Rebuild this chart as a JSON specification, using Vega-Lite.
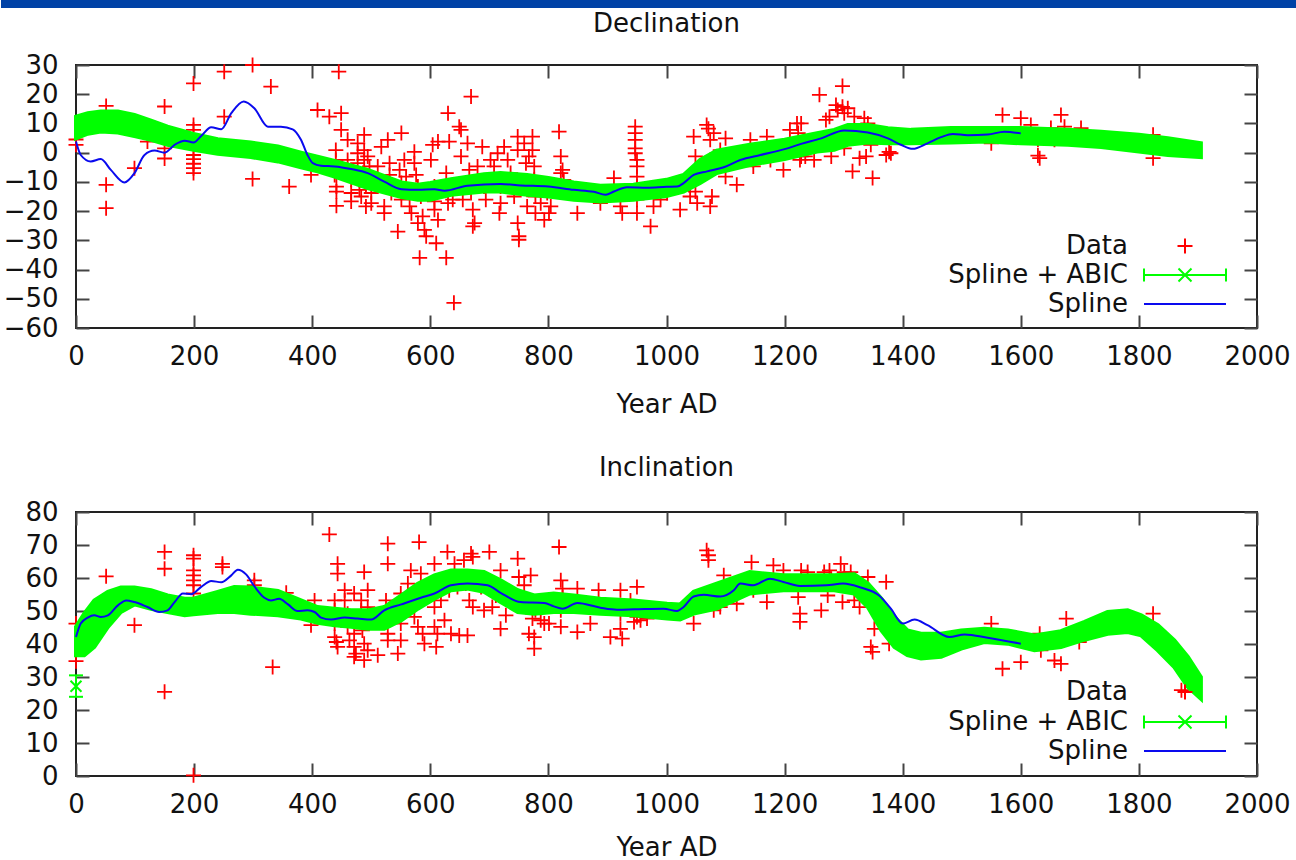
{
  "$schema": "https://vega.github.io/schema/vega-lite/v6.json",
  "padding": 0,
  "background": "white",
  "config": {
    "font": "DejaVu Sans",
    "view": {"stroke": "#222222", "strokeWidth": 2},
    "axis": {"domain": false, "grid": false, "ticks": true, "tickSize": -13, "tickWidth": 2, "tickColor": "#444444", "labelFont": "DejaVu Sans", "labelFontSize": 26, "labelColor": "#111111", "titleFont": "DejaVu Sans", "titleFontSize": 26, "titleFontWeight": "normal", "titleColor": "#111111", "labelFlush": false, "labelOverlap": false},
    "title": {"font": "DejaVu Sans", "fontSize": 26, "fontWeight": "normal", "color": "#111111"},
    "legend": {
      "title": null, "orient": "none", "padding": 0,
      "labelFont": "DejaVu Sans", "labelFontSize": 26, "labelColor": "#111111", "labelAlign": "right", "labelOffset": -70, "labelLimit": 400,
      "symbolSize": 400, "symbolStrokeWidth": 2, "symbolOpacity": 1, "rowPadding": 0
    }
  },
  "datasets": {
    "decData": [
      {"year":0,"v":2.7},{"year":0,"v":4.5},{"year":51,"v":16},{"year":51,"v":-11},{"year":51,"v":-19},{"year":99,"v":-5.3},{"year":121,"v":3.8},{"year":150,"v":15.8},{"year":150,"v":1.5},{"year":150,"v":-2},
      {"year":199,"v":23.7},{"year":199,"v":9.5},{"year":199,"v":7.8},{"year":199,"v":-0.8},{"year":199,"v":-2.2},{"year":199,"v":-3.8},{"year":199,"v":-5.3},{"year":199,"v":-7},{"year":251,"v":27.7},{"year":251,"v":12.3},
      {"year":299,"v":30},{"year":299,"v":-9},{"year":330,"v":22.6},{"year":361,"v":-11.6},{"year":398,"v":-7.6},{"year":409,"v":14.6},{"year":429,"v":12.3},{"year":445,"v":27.7},{"year":449,"v":13.5},{"year":449,"v":7.8},
      {"year":440,"v":0.9},{"year":440,"v":-2.5},{"year":443,"v":-5.3},{"year":438,"v":-7.6},{"year":441,"v":-11.6},{"year":441,"v":-13.3},{"year":441,"v":-18.2},
      {"year":460,"v":4.4},{"year":460,"v":-2.5},{"year":460,"v":-5.9},{"year":466,"v":-9.3},{"year":466,"v":-13.8},{"year":466,"v":-16.7},
      {"year":477,"v":3.2},{"year":477,"v":-0.2},{"year":477,"v":-3.6},{"year":480,"v":-12.7},{"year":483,"v":-15},
      {"year":488,"v":6.1},{"year":488,"v":0.9},{"year":488,"v":-2.5},{"year":488,"v":-7.6},{"year":491,"v":-11.6},{"year":491,"v":-18.4},
      {"year":494,"v":-1.3},{"year":497,"v":-4.7},{"year":500,"v":-13.8},{"year":500,"v":-17.3},
      {"year":511,"v":-4.7},{"year":517,"v":2},{"year":522,"v":-18.4},{"year":522,"v":-20.7},
      {"year":528,"v":4.4},{"year":531,"v":-3.6},{"year":531,"v":-7.6},{"year":534,"v":-13.8},
      {"year":545,"v":-27},{"year":551,"v":6.7},{"year":548,"v":-5.9},{"year":551,"v":-10.4},{"year":551,"v":-16.1},
      {"year":556,"v":-2.5},{"year":559,"v":-8.2},{"year":565,"v":-18.4},{"year":568,"v":-20.7},
      {"year":573,"v":0.3},{"year":573,"v":-3.6},{"year":576,"v":-7.6},{"year":579,"v":-11.6},{"year":579,"v":-24.1},
      {"year":582,"v":-36},{"year":584,"v":-15},{"year":587,"v":-21.8},{"year":590,"v":-26.4},{"year":593,"v":-28.6},
      {"year":601,"v":-2.5},{"year":604,"v":2.7},{"year":607,"v":-11.6},{"year":607,"v":-16.7},{"year":607,"v":-19.5},
      {"year":610,"v":-31},{"year":613,"v":-23},{"year":613,"v":3.8},{"year":627,"v":-36},{"year":630,"v":13.5},{"year":632,"v":3.8},{"year":627,"v":-7},{"year":630,"v":-17.3},{"year":624,"v":-11.6},{"year":640,"v":-51.4},
      {"year":638,"v":-16.1},{"year":649,"v":8.9},{"year":652,"v":7.8},{"year":652,"v":-1.3},{"year":655,"v":-11.6},{"year":655,"v":-16.1},
      {"year":663,"v":3.2},{"year":666,"v":-5.9},{"year":669,"v":19.2},{"year":669,"v":-13.8},{"year":672,"v":-19.5},{"year":672,"v":-25.2},{"year":675,"v":-24.1},
      {"year":680,"v":-4.7},{"year":688,"v":2},{"year":691,"v":-11.6},{"year":694,"v":-16.1},
      {"year":702,"v":-2.5},{"year":708,"v":-4.7},{"year":714,"v":-0.2},{"year":717,"v":-20.7},{"year":719,"v":-11.6},{"year":719,"v":-17.3},
      {"year":725,"v":2},{"year":731,"v":-2.5},{"year":736,"v":-7},{"year":742,"v":-15},
      {"year":748,"v":5.5},{"year":748,"v":0.9},{"year":748,"v":-11.6},{"year":748,"v":-24.1},{"year":750,"v":-28.6},{"year":750,"v":-29.8},
      {"year":759,"v":3.2},{"year":762,"v":-3.6},{"year":764,"v":-12.7},{"year":764,"v":-18.4},{"year":767,"v":-1.3},
      {"year":773,"v":5.5},{"year":773,"v":0.9},{"year":776,"v":-4.7},{"year":776,"v":-9.3},{"year":778,"v":-15},{"year":778,"v":-20.7},
      {"year":787,"v":-17.3},{"year":793,"v":-23},{"year":798,"v":-13.8},{"year":801,"v":-20.7},{"year":804,"v":-18.4},
      {"year":818,"v":7.2},{"year":821,"v":-1.3},{"year":824,"v":-5.9},{"year":821,"v":-7},{"year":826,"v":-9.3},{"year":849,"v":-20.7},{"year":888,"v":-17.3},
      {"year":911,"v":-8.7},{"year":916,"v":-13.8},{"year":922,"v":-18.4},{"year":925,"v":-20.7},
      {"year":947,"v":8.9},{"year":947,"v":6.7},{"year":947,"v":4.4},{"year":947,"v":1.5},{"year":947,"v":-0.2},{"year":950,"v":-2.5},{"year":950,"v":-4.7},{"year":950,"v":-8.2},{"year":950,"v":-11.6},{"year":950,"v":-16.1},{"year":950,"v":-20.7},
      {"year":973,"v":-25.2},{"year":978,"v":-18.4},{"year":990,"v":-16.1},{"year":1001,"v":-13.8},
      {"year":1023,"v":-19.5},{"year":1040,"v":-15},{"year":1046,"v":5.5},{"year":1049,"v":-1.3},{"year":1046,"v":-8.2},{"year":1049,"v":-13.3},{"year":1052,"v":-17.3},
      {"year":1068,"v":9.5},{"year":1071,"v":8.2},{"year":1074,"v":4.4},{"year":1074,"v":-2.5},{"year":1077,"v":-15},{"year":1074,"v":-18.4},
      {"year":1080,"v":6.7},{"year":1091,"v":0.9},{"year":1100,"v":4.9},{"year":1100,"v":-8.2},{"year":1119,"v":-11},
      {"year":1142,"v":4.4},{"year":1147,"v":-2.5},{"year":1147,"v":-4.7},{"year":1170,"v":5.5},{"year":1176,"v":-2.5},{"year":1198,"v":-5.9},
      {"year":1209,"v":7.8},{"year":1221,"v":10},{"year":1223,"v":6.7},{"year":1226,"v":-2.5},{"year":1235,"v":-1.3},
      {"year":1228,"v":10},{"year":1228,"v":-1.3},{"year":1250,"v":-2.5},{"year":1259,"v":19.8},
      {"year":1270,"v":11.2},{"year":1276,"v":12.3},{"year":1279,"v":-1.3},{"year":1287,"v":16.3},{"year":1290,"v":14.6},
      {"year":1298,"v":15.7},{"year":1298,"v":22.8},{"year":1301,"v":13.5},{"year":1301,"v":1.5},{"year":1307,"v":15.2},
      {"year":1315,"v":-6.4},{"year":1318,"v":12.3},{"year":1327,"v":-1.9},{"year":1335,"v":11.8},{"year":1338,"v":-1.3},
      {"year":1341,"v":10},{"year":1346,"v":2.7},{"year":1349,"v":-8.7},{"year":1372,"v":-0.8},{"year":1377,"v":0.3},{"year":1380,"v":-0.2},
      {"year":1550,"v":3.2},{"year":1569,"v":12.9},{"year":1600,"v":11.8},{"year":1617,"v":9.5},{"year":1629,"v":4.4},{"year":1629,"v":-1},{"year":1632,"v":-1.9},
      {"year":1651,"v":8.4},{"year":1657,"v":4.4},{"year":1668,"v":12.9},{"year":1674,"v":8.9},{"year":1702,"v":8.4},
      {"year":1824,"v":6.1},{"year":1824,"v":-1.9}
    ],
    "decBand": [
      {"year":0,"lo":4.9,"hi":12.3},{"year":20,"lo":6.5,"hi":13.5},{"year":42,"lo":7.2,"hi":14.1},{"year":71,"lo":6.9,"hi":14.1},{"year":99,"lo":5.7,"hi":12.9},{"year":127,"lo":4.4,"hi":11},{"year":155,"lo":2.7,"hi":8.9},{"year":199,"lo":1,"hi":6.4},{"year":240,"lo":-0.4,"hi":4.6},{"year":296,"lo":-1.5,"hi":3.5},
      {"year":342,"lo":-3,"hi":2.1},{"year":381,"lo":-5,"hi":0},{"year":409,"lo":-6.4,"hi":-1.4},{"year":438,"lo":-8.2,"hi":-2.8},{"year":494,"lo":-12.1,"hi":-5.9},{"year":551,"lo":-15.2,"hi":-10.2},{"year":579,"lo":-16.1,"hi":-11},{"year":600,"lo":-16.1,"hi":-10.4},{"year":635,"lo":-14.4,"hi":-9.1},{"year":691,"lo":-13.3,"hi":-7.4},
      {"year":719,"lo":-13.3,"hi":-7},{"year":764,"lo":-14.4,"hi":-7.6},{"year":800,"lo":-15,"hi":-8.7},{"year":843,"lo":-16.1,"hi":-10.2},{"year":888,"lo":-16.7,"hi":-11.3},{"year":944,"lo":-16.1,"hi":-11},{"year":1000,"lo":-14.8,"hi":-9.3},{"year":1029,"lo":-13.3,"hi":-7.6},{"year":1057,"lo":-10.4,"hi":-2.5},{"year":1085,"lo":-7,"hi":0.7},
      {"year":1141,"lo":-4.2,"hi":2.7},{"year":1200,"lo":-2.2,"hi":4.4},{"year":1255,"lo":0.4,"hi":6.7},{"year":1284,"lo":1,"hi":7.8},{"year":1307,"lo":2.7,"hi":9.5},{"year":1341,"lo":3.5,"hi":9.5},{"year":1375,"lo":3.2,"hi":8.4},{"year":1414,"lo":3.2,"hi":7.8},{"year":1482,"lo":3.5,"hi":8.4},{"year":1544,"lo":3.8,"hi":8.4},
      {"year":1600,"lo":3.2,"hi":8.4},{"year":1680,"lo":2.7,"hi":7.8},{"year":1736,"lo":1.9,"hi":7.2},{"year":1800,"lo":0.4,"hi":6.1},{"year":1849,"lo":-0.8,"hi":4.9},{"year":1905,"lo":-1.5,"hi":3.2}
    ],
    "decSpline": [
      {"year":0,"v":3.8},{"year":8,"v":-0.8},{"year":25,"v":-3},{"year":42,"v":-2.2},{"year":59,"v":-5.9},{"year":82,"v":-10.2},{"year":99,"v":-7},{"year":116,"v":-0.8},{"year":133,"v":0.7},{"year":150,"v":0},
      {"year":167,"v":2.7},{"year":184,"v":4.1},{"year":199,"v":3.5},{"year":212,"v":5.7},{"year":229,"v":8.7},{"year":246,"v":8},{"year":263,"v":13.5},{"year":284,"v":17.5},{"year":302,"v":15.2},{"year":325,"v":8.9},
      {"year":347,"v":8.9},{"year":367,"v":8},{"year":381,"v":4.4},{"year":392,"v":-0.8},{"year":401,"v":-3.6},{"year":415,"v":-4.5},{"year":438,"v":-4.7},{"year":466,"v":-5.6},{"year":494,"v":-7},{"year":522,"v":-9.9},
      {"year":551,"v":-12.5},{"year":579,"v":-12.7},{"year":607,"v":-12.5},{"year":624,"v":-13},{"year":663,"v":-11.3},{"year":719,"v":-10.7},{"year":753,"v":-11.2},{"year":800,"v":-11.6},{"year":843,"v":-12.7},{"year":877,"v":-13.4},
      {"year":897,"v":-14.4},{"year":911,"v":-13.3},{"year":933,"v":-11.8},{"year":967,"v":-12},{"year":1000,"v":-11.7},{"year":1018,"v":-11.6},{"year":1029,"v":-10.4},{"year":1046,"v":-7.6},{"year":1069,"v":-6.4},{"year":1097,"v":-5},
      {"year":1125,"v":-2.5},{"year":1159,"v":-0.8},{"year":1200,"v":1.2},{"year":1228,"v":3},{"year":1262,"v":4.9},{"year":1301,"v":7.6},{"year":1341,"v":6.9},{"year":1375,"v":4.9},{"year":1397,"v":2.7},{"year":1417,"v":1.3},
      {"year":1442,"v":3.2},{"year":1465,"v":5.3},{"year":1485,"v":6.4},{"year":1510,"v":6},{"year":1544,"v":6.2},{"year":1572,"v":7.2},{"year":1600,"v":6.6}
    ],
    "incData": [
      {"year":0,"v":46.2},{"year":0,"v":34.8},{"year":51,"v":60.5},{"year":99,"v":45.7},{"year":150,"v":67.9},{"year":150,"v":62.8},{"year":150,"v":25.5},
      {"year":199,"v":66.9},{"year":199,"v":65.9},{"year":199,"v":62.3},{"year":199,"v":60.8},{"year":199,"v":59.3},{"year":199,"v":57.8},{"year":199,"v":55.3},{"year":199,"v":0.2},
      {"year":248,"v":64.3},{"year":248,"v":63.3},{"year":302,"v":59.3},{"year":302,"v":57.8},{"year":333,"v":33},{"year":356,"v":55.5},{"year":398,"v":45.7},{"year":404,"v":53.2},{"year":429,"v":73.2},
      {"year":443,"v":64.3},{"year":443,"v":61.3},{"year":438,"v":53.2},{"year":438,"v":50.2},{"year":438,"v":46.2},{"year":438,"v":42.1},{"year":441,"v":40.6},{"year":443,"v":39.1},
      {"year":455,"v":56.3},{"year":455,"v":53.2},{"year":460,"v":49.2},{"year":460,"v":45.2},{"year":463,"v":41.1},
      {"year":471,"v":55.3},{"year":471,"v":47.2},{"year":471,"v":43.1},{"year":471,"v":39.1},{"year":471,"v":36.1},{"year":474,"v":37.1},
      {"year":483,"v":53.2},{"year":483,"v":50.2},{"year":485,"v":44.1},{"year":488,"v":61.8},{"year":488,"v":40.1},{"year":488,"v":35.1},
      {"year":494,"v":56.3},{"year":494,"v":51.2},{"year":497,"v":46.7},{"year":494,"v":38.1},
      {"year":511,"v":36.6},{"year":525,"v":53.2},{"year":528,"v":70.4},{"year":528,"v":64.3},{"year":528,"v":43.1},{"year":528,"v":41.1},
      {"year":545,"v":37.1},{"year":550,"v":55.3},{"year":550,"v":51.2},{"year":550,"v":46.2},{"year":550,"v":41.1},{"year":562,"v":58.3},{"year":567,"v":62.3},{"year":570,"v":53.2},{"year":573,"v":48.2},{"year":579,"v":45.2},
      {"year":581,"v":70.9},{"year":584,"v":61.3},{"year":587,"v":43.1},{"year":590,"v":40.1},{"year":593,"v":56.3},
      {"year":607,"v":64.3},{"year":607,"v":58.3},{"year":607,"v":51.2},{"year":607,"v":45.2},{"year":610,"v":39.1},{"year":612,"v":43.1},
      {"year":618,"v":53.2},{"year":624,"v":47.2},{"year":629,"v":67.9},{"year":632,"v":56.3},{"year":635,"v":43.1},
      {"year":641,"v":64.3},{"year":646,"v":57.3},{"year":649,"v":42.6},{"year":657,"v":65.4},{"year":660,"v":58.3},{"year":663,"v":42.6},
      {"year":666,"v":53.2},{"year":669,"v":67.4},{"year":672,"v":66.4},{"year":672,"v":58.3},{"year":672,"v":51.2},
      {"year":686,"v":57.3},{"year":691,"v":50.2},{"year":700,"v":67.9},{"year":705,"v":51.2},{"year":711,"v":54.7},
      {"year":719,"v":62.3},{"year":719,"v":44.6},{"year":722,"v":56.3},{"year":728,"v":48.7},
      {"year":748,"v":65.9},{"year":750,"v":60.3},{"year":756,"v":53.2},{"year":759,"v":57.8},{"year":762,"v":51.2},
      {"year":767,"v":43.1},{"year":770,"v":60.8},{"year":773,"v":47.7},{"year":776,"v":42.1},{"year":776,"v":38.6},{"year":778,"v":50.2},
      {"year":787,"v":47.2},{"year":793,"v":46.2},{"year":801,"v":46.2},
      {"year":818,"v":69.4},{"year":821,"v":59.3},{"year":824,"v":56.8},{"year":824,"v":54.2},{"year":821,"v":50.2},{"year":821,"v":45.2},
      {"year":849,"v":56.8},{"year":849,"v":43.6},{"year":871,"v":46.2},{"year":885,"v":56.3},
      {"year":905,"v":42.1},{"year":922,"v":56.3},{"year":922,"v":49.2},{"year":922,"v":44.6},{"year":925,"v":41.6},
      {"year":939,"v":53.2},{"year":945,"v":46.7},{"year":950,"v":57.3},{"year":950,"v":48.2},{"year":956,"v":47.2},{"year":967,"v":47.7},
      {"year":1023,"v":50.2},{"year":1046,"v":46.2},
      {"year":1068,"v":68.4},{"year":1071,"v":66.9},{"year":1071,"v":65.4},{"year":1080,"v":50.2},{"year":1091,"v":51.2},
      {"year":1097,"v":60.8},{"year":1119,"v":52.2},{"year":1144,"v":64.8},{"year":1147,"v":56.3},{"year":1153,"v":59.3},
      {"year":1170,"v":52.7},{"year":1181,"v":63.8},{"year":1198,"v":62.3},{"year":1223,"v":54.2},{"year":1226,"v":49.2},{"year":1226,"v":46.7},
      {"year":1228,"v":62.3},{"year":1239,"v":61.8},
      {"year":1262,"v":50.2},{"year":1267,"v":61.8},{"year":1273,"v":54.7},{"year":1276,"v":62.3},{"year":1279,"v":59.8},
      {"year":1295,"v":64.3},{"year":1298,"v":52.7},{"year":1301,"v":61.8},{"year":1312,"v":61.8},{"year":1318,"v":53.2},
      {"year":1327,"v":51.2},{"year":1341,"v":60.3},{"year":1346,"v":39.1},{"year":1349,"v":37.6},{"year":1352,"v":44.6},
      {"year":1372,"v":58.8},{"year":1377,"v":40.1},
      {"year":1550,"v":46.2},{"year":1569,"v":32.5},{"year":1600,"v":34.5},{"year":1632,"v":43.1},{"year":1634,"v":38.1},
      {"year":1657,"v":35},{"year":1668,"v":34},{"year":1677,"v":47.7},{"year":1699,"v":40.6},
      {"year":1824,"v":49.2},{"year":1872,"v":26}
    ],
    "incBand": [
      {"year":0,"lo":36.6,"hi":45.2},{"year":14,"lo":36.6,"hi":49.2},{"year":31,"lo":39.1,"hi":53.2},{"year":54,"lo":45.2,"hi":55.8},{"year":76,"lo":49.7,"hi":57.1},{"year":99,"lo":52,"hi":57.1},{"year":127,"lo":50.7,"hi":56.3},{"year":155,"lo":49.7,"hi":54.7},{"year":184,"lo":48.7,"hi":53.7},{"year":199,"lo":49,"hi":53.7},
      {"year":240,"lo":49.7,"hi":55.8},{"year":268,"lo":49.7,"hi":57.3},{"year":296,"lo":49.2,"hi":57.1},{"year":342,"lo":48.7,"hi":56.1},{"year":381,"lo":47.7,"hi":53.2},{"year":409,"lo":46.4,"hi":51.2},{"year":438,"lo":45.7,"hi":50.7},{"year":466,"lo":45.2,"hi":50.2},{"year":494,"lo":44.6,"hi":50.2},{"year":522,"lo":44.6,"hi":51.2},
      {"year":551,"lo":47.2,"hi":54.7},{"year":579,"lo":50.7,"hi":58.3},{"year":607,"lo":53.7,"hi":60.8},{"year":635,"lo":56.3,"hi":62.3},{"year":663,"lo":56.8,"hi":62.3},{"year":691,"lo":55.8,"hi":61.8},{"year":719,"lo":52.7,"hi":59.3},{"year":748,"lo":49.7,"hi":56.3},{"year":776,"lo":49.2,"hi":54.7},{"year":809,"lo":49.7,"hi":55.3},
      {"year":843,"lo":49.7,"hi":54.7},{"year":888,"lo":49.2,"hi":53.7},{"year":944,"lo":48.7,"hi":53.2},{"year":1001,"lo":47.7,"hi":52.2},{"year":1023,"lo":47.4,"hi":52},{"year":1046,"lo":49.2,"hi":55.8},{"year":1085,"lo":50.7,"hi":58.3},{"year":1141,"lo":55.3,"hi":61.8},{"year":1198,"lo":56.3,"hi":60.8},{"year":1254,"lo":56.3,"hi":60.8},
      {"year":1284,"lo":56.3,"hi":60.8},{"year":1318,"lo":55.3,"hi":61.1},{"year":1341,"lo":51.2,"hi":58.3},{"year":1364,"lo":44.1,"hi":53.7},{"year":1386,"lo":39.1,"hi":48.2},{"year":1408,"lo":36.6,"hi":44.1},{"year":1431,"lo":35.6,"hi":43.1},{"year":1465,"lo":36.1,"hi":43.1},{"year":1499,"lo":38.6,"hi":44.1},{"year":1538,"lo":40.6,"hi":44.6},
      {"year":1578,"lo":40.1,"hi":44.1},{"year":1623,"lo":38.1,"hi":42.6},{"year":1668,"lo":39.1,"hi":43.9},{"year":1708,"lo":41.3,"hi":46.7},{"year":1747,"lo":43.1,"hi":49.7},{"year":1781,"lo":43.6,"hi":50.2},{"year":1804,"lo":42.6,"hi":48.7},{"year":1832,"lo":38.1,"hi":45.7},{"year":1860,"lo":33,"hi":41.1},{"year":1883,"lo":27,"hi":36.1},
      {"year":1905,"lo":23.4,"hi":30}
    ],
    "incSpline": [
      {"year":0,"v":42.1},{"year":8,"v":46.2},{"year":20,"v":48},{"year":31,"v":48.7},{"year":42,"v":48.2},{"year":54,"v":48.7},{"year":71,"v":51.7},{"year":85,"v":53.2},{"year":99,"v":52.7},{"year":121,"v":51.2},
      {"year":141,"v":49.7},{"year":155,"v":50.2},{"year":167,"v":52.7},{"year":181,"v":55.3},{"year":195,"v":55.1},{"year":212,"v":57.3},{"year":229,"v":59.1},{"year":246,"v":58.7},{"year":263,"v":60.8},{"year":274,"v":62.5},
      {"year":288,"v":61.1},{"year":302,"v":57.5},{"year":319,"v":54},{"year":330,"v":53.2},{"year":344,"v":53.7},{"year":359,"v":52},{"year":375,"v":50},{"year":392,"v":50.2},{"year":404,"v":49.7},{"year":415,"v":48},
      {"year":432,"v":47.4},{"year":455,"v":48},{"year":477,"v":47.7},{"year":500,"v":47.4},{"year":522,"v":50.2},{"year":551,"v":52},{"year":584,"v":54},{"year":607,"v":55.3},{"year":635,"v":57.8},{"year":663,"v":58.3},
      {"year":697,"v":57.8},{"year":719,"v":55.5},{"year":753,"v":52.7},{"year":793,"v":52.4},{"year":809,"v":51.4},{"year":824,"v":50.7},{"year":849,"v":52.4},{"year":888,"v":51},{"year":916,"v":50.4},{"year":945,"v":50.5},
      {"year":995,"v":50.7},{"year":1018,"v":50},{"year":1029,"v":51.2},{"year":1046,"v":54.4},{"year":1063,"v":54.9},{"year":1091,"v":54.4},{"year":1114,"v":56.3},{"year":1125,"v":58.3},{"year":1147,"v":57.8},{"year":1175,"v":59.8},
      {"year":1198,"v":58.8},{"year":1226,"v":57.6},{"year":1271,"v":57.8},{"year":1299,"v":58.3},{"year":1329,"v":57.1},{"year":1360,"v":54.7},{"year":1380,"v":50.7},{"year":1400,"v":46.2},{"year":1420,"v":47.4},{"year":1442,"v":45.7},
      {"year":1479,"v":42.1},{"year":1505,"v":42.9},{"year":1544,"v":41.9},{"year":1600,"v":40.1}
    ],
    "incAbic0": [{"year":0,"lo":24,"hi":30.5,"mid":27.2}]
  },
  "concat": [
    {
      "width": 1221, "height": 8,
      "view": {"fill": "#0042a6", "stroke": null},
      "data": {"values": [{}]},
      "mark": {"type": "rect", "color": "#0042a6"},
      "encoding": {
        "y": {"datum": 0, "type": "quantitative", "scale": {"domain": [0, 1]},
              "axis": {"domain": true, "domainColor": "#0042a6", "domainWidth": 150, "domainCap": "butt", "translate": 0, "ticks": false, "labels": false, "grid": false, "title": null, "minExtent": 75, "maxExtent": 75}},
        "y2": {"datum": 1}
      }
    },
    {
      "spacing": 36,
      "resolve": {"scale": {"color": "independent", "fill": "independent", "stroke": "independent"}, "legend": {"color": "independent", "fill": "independent", "stroke": "independent"}},
      "vconcat": [
        {
          "width": 1181, "height": 263,
          "title": {"text": "Declination", "offset": 15},
          "resolve": {"axis": {"x": "independent", "y": "independent"}},
          "layer": [
            {
              "data": {"name": "decData"},
              "mark": {"type": "point", "shape": "M-1,0H1M0,-1V1", "size": 225, "strokeWidth": 1.8, "filled": false, "opacity": 1},
              "encoding": {
                "x": {"field": "year", "type": "quantitative", "scale": {"domain": [0, 2000], "nice": false, "zero": false},
                      "axis": {"orient": "bottom", "format": "d", "values": [0,200,400,600,800,1000,1200,1400,1600,1800,2000], "title": "Year AD", "labelPadding": 28, "titlePadding": 22}},
                "y": {"field": "v", "type": "quantitative", "scale": {"domain": [-60, 30], "nice": false, "zero": false},
                      "axis": {"orient": "left", "values": [-60,-50,-40,-30,-20,-10,0,10,20,30], "title": null, "labelPadding": 31, "minExtent": 75, "maxExtent": 75}},
                "color": {"datum": "Data", "type": "nominal",
                          "scale": {"domain": ["Data"], "range": ["#ff0000"]},
                          "legend": {"legendX": 1096, "legendY": 168, "symbolType": "M-0.75,0H0.75M0,-0.75V0.75", "symbolStrokeColor": "#ff0000"}}
              }
            },
            {
              "data": {"name": "decBand"},
              "mark": {"type": "area", "stroke": "#00ff00", "strokeWidth": 4, "opacity": 1},
              "encoding": {
                "x": {"field": "year", "type": "quantitative", "scale": {"domain": [0, 2000], "nice": false, "zero": false},
                      "axis": {"orient": "top", "values": [0,200,400,600,800,1000,1200,1400,1600,1800,2000], "labels": false, "title": null, "minExtent": 0, "maxExtent": 0}},
                "y": {"field": "hi", "type": "quantitative", "scale": {"domain": [-60, 30], "nice": false, "zero": false},
                      "axis": {"orient": "right", "values": [-60,-50,-40,-30,-20,-10,0,10,20,30], "labels": false, "title": null, "minExtent": 0, "maxExtent": 0}},
                "y2": {"field": "lo"},
                "fill": {"datum": "Spline + ABIC", "type": "nominal",
                         "scale": {"domain": ["Spline + ABIC"], "range": ["#00ff00"]},
                         "legend": {"legendX": 1096, "legendY": 197, "symbolType": "M-4.1,0H4.1M-4.1,-0.65V0.65M4.1,-0.65V0.65M-0.65,-0.65L0.65,0.65M-0.65,0.65L0.65,-0.65", "symbolStrokeColor": "#00ff00", "symbolFillColor": "transparent", "symbolStrokeWidth": 2}}
              }
            },
            {
              "data": {"name": "decSpline"},
              "mark": {"type": "line", "strokeWidth": 2, "interpolate": "monotone"},
              "encoding": {
                "x": {"field": "year", "type": "quantitative", "axis": null},
                "y": {"field": "v", "type": "quantitative", "axis": null},
                "stroke": {"datum": "Spline", "type": "nominal",
                           "scale": {"domain": ["Spline"], "range": ["#0a0aee"]},
                           "legend": {"legendX": 1096, "legendY": 226, "symbolType": "M-4.1,0H4.1", "symbolStrokeColor": "#0a0aee", "symbolStrokeWidth": 2}}
              }
            }
          ]
        },
        {
          "width": 1181, "height": 264,
          "title": {"text": "Inclination", "offset": 18},
          "resolve": {"axis": {"x": "independent", "y": "independent"}},
          "layer": [
            {
              "data": {"name": "incData"},
              "mark": {"type": "point", "shape": "M-1,0H1M0,-1V1", "size": 225, "strokeWidth": 1.8, "filled": false, "opacity": 1},
              "encoding": {
                "x": {"field": "year", "type": "quantitative", "scale": {"domain": [0, 2000], "nice": false, "zero": false},
                      "axis": {"orient": "bottom", "format": "d", "values": [0,200,400,600,800,1000,1200,1400,1600,1800,2000], "title": "Year AD", "labelPadding": 28, "titlePadding": 17}},
                "y": {"field": "v", "type": "quantitative", "scale": {"domain": [0, 80], "nice": false, "zero": false},
                      "axis": {"orient": "left", "values": [0,10,20,30,40,50,60,70,80], "title": null, "labelPadding": 31, "minExtent": 75, "maxExtent": 75}},
                "color": {"datum": "Data", "type": "nominal",
                          "scale": {"domain": ["Data"], "range": ["#ff0000"]},
                          "legend": {"legendX": 1096, "legendY": 167, "symbolType": "M-0.75,0H0.75M0,-0.75V0.75", "symbolStrokeColor": "#ff0000"}}
              }
            },
            {
              "data": {"name": "incBand"},
              "mark": {"type": "area", "stroke": "#00ff00", "strokeWidth": 4, "opacity": 1},
              "encoding": {
                "x": {"field": "year", "type": "quantitative", "scale": {"domain": [0, 2000], "nice": false, "zero": false},
                      "axis": {"orient": "top", "values": [0,200,400,600,800,1000,1200,1400,1600,1800,2000], "labels": false, "title": null, "minExtent": 0, "maxExtent": 0}},
                "y": {"field": "hi", "type": "quantitative", "scale": {"domain": [0, 80], "nice": false, "zero": false},
                      "axis": {"orient": "right", "values": [0,10,20,30,40,50,60,70,80], "labels": false, "title": null, "minExtent": 0, "maxExtent": 0}},
                "y2": {"field": "lo"},
                "fill": {"datum": "Spline + ABIC", "type": "nominal",
                         "scale": {"domain": ["Spline + ABIC"], "range": ["#00ff00"]},
                         "legend": {"legendX": 1096, "legendY": 197, "symbolType": "M-4.1,0H4.1M-4.1,-0.65V0.65M4.1,-0.65V0.65M-0.65,-0.65L0.65,0.65M-0.65,0.65L0.65,-0.65", "symbolStrokeColor": "#00ff00", "symbolFillColor": "transparent", "symbolStrokeWidth": 2}}
              }
            },
            {
              "data": {"name": "incAbic0"},
              "mark": {"type": "rule", "color": "#00ff00", "strokeWidth": 2},
              "encoding": {
                "x": {"field": "year", "type": "quantitative", "axis": null},
                "y": {"field": "lo", "type": "quantitative", "axis": null},
                "y2": {"field": "hi"}
              }
            },
            {
              "data": {"name": "incAbic0"},
              "mark": {"type": "point", "shape": "M-1,-1L1,1M-1,1L1,-1", "size": 120, "strokeWidth": 2, "filled": false, "color": "#00ff00", "opacity": 1},
              "encoding": {
                "x": {"field": "year", "type": "quantitative", "axis": null},
                "y": {"field": "mid", "type": "quantitative", "axis": null}
              }
            },
            {
              "data": {"name": "incAbic0"},
              "mark": {"type": "point", "shape": "M-1,0H1", "size": 196, "strokeWidth": 2, "filled": false, "color": "#00ff00", "opacity": 1},
              "encoding": {
                "x": {"field": "year", "type": "quantitative", "axis": null},
                "y": {"field": "lo", "type": "quantitative", "axis": null}
              }
            },
            {
              "data": {"name": "incAbic0"},
              "mark": {"type": "point", "shape": "M-1,0H1", "size": 196, "strokeWidth": 2, "filled": false, "color": "#00ff00", "opacity": 1},
              "encoding": {
                "x": {"field": "year", "type": "quantitative", "axis": null},
                "y": {"field": "hi", "type": "quantitative", "axis": null}
              }
            },
            {
              "data": {"name": "incSpline"},
              "mark": {"type": "line", "strokeWidth": 2, "interpolate": "monotone"},
              "encoding": {
                "x": {"field": "year", "type": "quantitative", "axis": null},
                "y": {"field": "v", "type": "quantitative", "axis": null},
                "stroke": {"datum": "Spline", "type": "nominal",
                           "scale": {"domain": ["Spline"], "range": ["#0a0aee"]},
                           "legend": {"legendX": 1096, "legendY": 226, "symbolType": "M-4.1,0H4.1", "symbolStrokeColor": "#0a0aee", "symbolStrokeWidth": 2}}
              }
            }
          ]
        }
      ]
    }
  ],
  "columns": 1,
  "align": "none",
  "spacing": 2
}
